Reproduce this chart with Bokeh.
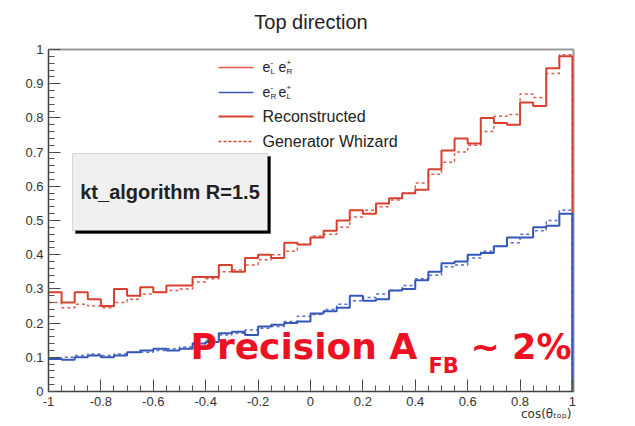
import numpy as np
from bokeh.plotting import figure
from bokeh.models import Label, BoxAnnotation, FixedTicker, Range1d, Title
from bokeh.embed import file_html
from bokeh.resources import INLINE

# ---------------- data ----------------
x_lo, x_hi = -1.0, 1.0
red_reco = [0.29, 0.26, 0.29, 0.27, 0.25, 0.30, 0.28, 0.305, 0.29, 0.31,
            0.31, 0.335, 0.335, 0.37, 0.35, 0.39, 0.40, 0.39, 0.435, 0.43,
            0.45, 0.47, 0.50, 0.53, 0.52, 0.55, 0.565, 0.58, 0.59, 0.65,
            0.705, 0.74, 0.725, 0.80, 0.785, 0.78, 0.845, 0.835, 0.945, 0.98]
red_gen = [0.26, 0.245, 0.255, 0.25, 0.245, 0.26, 0.27, 0.285, 0.29, 0.295,
           0.30, 0.32, 0.33, 0.35, 0.355, 0.37, 0.385, 0.40, 0.41, 0.43,
           0.455, 0.46, 0.48, 0.51, 0.53, 0.54, 0.56, 0.58, 0.61, 0.635,
           0.67, 0.70, 0.72, 0.76, 0.805, 0.81, 0.87, 0.86, 0.93, 0.985]
blue_reco = [0.095, 0.093, 0.10, 0.105, 0.10, 0.105, 0.115, 0.12, 0.125, 0.12,
             0.125, 0.14, 0.145, 0.17, 0.175, 0.165, 0.19, 0.195, 0.20, 0.205,
             0.228, 0.235, 0.245, 0.28, 0.265, 0.27, 0.295, 0.30, 0.325, 0.35,
             0.375, 0.38, 0.40, 0.405, 0.425, 0.45, 0.45, 0.48, 0.485, 0.52]
blue_gen = [0.095, 0.10, 0.105, 0.11, 0.105, 0.11, 0.115, 0.115, 0.12, 0.125,
            0.13, 0.14, 0.15, 0.165, 0.17, 0.18, 0.185, 0.19, 0.205, 0.22,
            0.225, 0.24, 0.255, 0.265, 0.275, 0.285, 0.295, 0.31, 0.33, 0.34,
            0.365, 0.37, 0.39, 0.41, 0.425, 0.435, 0.46, 0.47, 0.50, 0.53]

x_ticks = [-1, -0.8, -0.6, -0.4, -0.2, 0, 0.2, 0.4, 0.6, 0.8, 1]
x_tick_labels = ["-1", "-0.8", "-0.6", "-0.4", "-0.2", "0", "0.2", "0.4", "0.6", "0.8", "1"]
y_ticks = [0, 0.1, 0.2, 0.3, 0.4, 0.5, 0.6, 0.7, 0.8, 0.9, 1]
y_tick_labels = ["0", "0.1", "0.2", "0.3", "0.4", "0.5", "0.6", "0.7", "0.8", "0.9", "1"]

title_text = "Top direction"
x_title = "cos(θₜₒₚ)"
legend_texts = ["Reconstructed", "Generator Whizard"]
box_text = "kt_algorithm R=1.5"

RED = "#d8402f"
RED_LIGHT = "#e2584c"
BLUE = "#3557b8"
PREC = "#ee1124"

# ---------------- layout ----------------
FL, FT, FW, FH = 48, 49, 525, 342
W, H = 635, 426
XR = (-1.0, 1.004)
YR = (0.0, 1.0)

def px2x(px):
    return XR[0] + (px - FL) / FW * (XR[1] - XR[0])

def py2y(py):
    return YR[0] + (FT + FH - py) / FH * (YR[1] - YR[0])

p = figure(frame_width=FW, frame_height=FH,
           x_range=Range1d(*XR), y_range=Range1d(*YR),
           output_backend="svg", toolbar_location=None,
           min_border_left=FL, min_border_right=W - FL - FW,
           min_border_top=FT, min_border_bottom=H - FT - FH)
p.background_fill_color = "white"
p.border_fill_color = "white"
p.outline_line_color = "#999999"
p.outline_line_width = 2
p.xgrid.visible = False
p.ygrid.visible = False

p.title.text = title_text
p.title.align = "center"
p.title.text_font = "Liberation Sans"
p.title.text_font_style = "normal"
p.title.text_font_size = "20px"
p.title.text_color = "#222222"
p.title.standoff = 0

# thin spacer between the title and the frame (pushes the title up)
p.add_layout(Title(text=" ", text_font_size="1px", standoff=14), "above")

# axes
p.xaxis.ticker = FixedTicker(ticks=x_ticks,
                             minor_ticks=list(np.round(np.arange(-1, 1.0001, 0.05), 3)))
p.xaxis.major_label_overrides = dict(zip(x_ticks, x_tick_labels))
p.yaxis.ticker = FixedTicker(ticks=y_ticks,
                             minor_ticks=list(np.round(np.arange(0, 1.0001, 0.02), 3)))
p.yaxis.major_label_overrides = dict(zip(y_ticks, y_tick_labels))
for ax in (p.xaxis[0], p.yaxis[0]):
    ax.major_tick_in = 12
    ax.major_tick_out = 0
    ax.minor_tick_in = 6
    ax.minor_tick_out = 0
    ax.axis_line_color = "#444444"
    ax.major_tick_line_color = "#444444"
    ax.minor_tick_line_color = "#555555"
    ax.major_label_text_font = "Liberation Sans"
    ax.major_label_text_font_size = "13px"
    ax.major_label_text_color = "#333333"
    ax.major_label_standoff = 5

xt = Title(text=x_title, align="right", text_font="DejaVu Sans",
           text_font_size="12px", text_font_style="normal", text_color="#333333",
           standoff=-7, offset=2)
p.add_layout(xt, "below")

# ---------------- histograms ----------------
def outline(vals):
    edges = np.linspace(x_lo, x_hi, len(vals) + 1)
    xs, ys = [], []
    for i, v in enumerate(vals):
        xs += [edges[i], edges[i + 1]]
        ys += [v, v]
    xs.append(edges[-1])
    ys.append(0.0)
    return xs, ys

xs, ys = outline(red_gen)
p.line(xs, ys, line_color=RED, line_width=1.5, line_dash="3 3", line_alpha=0.85)
xs, ys = outline(blue_gen)
p.line(xs, ys, line_color=BLUE, line_width=1.5, line_dash="3 3", line_alpha=0.85)
xs, ys = outline(red_reco)
p.line(xs, ys, line_color=RED, line_width=2)
xs, ys = outline(blue_reco)
p.line(xs, ys, line_color=BLUE, line_width=2)

# ---------------- legend (manual) ----------------
rows_py = [67, 92, 116, 141]
lx0, lx1, tx = 218, 253, 262
styles = [(RED_LIGHT, 1.4, "solid"), (BLUE, 1.5, "solid"), (RED, 2, "solid"), (RED, 1.5, "3 2")]
for py, (c, w, d) in zip(rows_py, styles):
    p.segment(x0=[px2x(lx0)], y0=[py2y(py)], x1=[px2x(lx1)], y1=[py2y(py)],
              line_color=c, line_width=w, line_dash=d)

def add_label(px, py, text, size, bold=False, color="#222222", font="Liberation Sans",
              align="left", baseline="middle"):
    p.add_layout(Label(x=px2x(px), y=py2y(py), text=text, text_font=font,
                       text_font_size=f"{size}px",
                       text_font_style="bold" if bold else "normal",
                       text_color=color, text_align=align, text_baseline=baseline))

# e-_L e+_R   and   e-_R e+_L
for py, (s1, s2) in zip(rows_py[:2], [("L", "R"), ("R", "L")]):
    add_label(tx, py - 1, "e", 14)
    add_label(tx + 8, py - 5, "-", 8)
    add_label(tx + 8, py + 4, s1, 8)
    add_label(tx + 16, py - 1, "e", 14)
    add_label(tx + 24, py - 5, "+", 8)
    add_label(tx + 24, py + 4, s2, 8)

add_label(tx, rows_py[2], legend_texts[0], 16)
add_label(tx, rows_py[3], legend_texts[1], 16)

# ---------------- text box ----------------
bl, br, bt, bb = 72, 267, 153, 230
p.add_layout(BoxAnnotation(left=px2x(bl + 3), right=px2x(br + 3), top=py2y(bt + 3),
                           bottom=py2y(bb + 3), fill_color="black", fill_alpha=1,
                           line_color="black"))
p.add_layout(BoxAnnotation(left=px2x(bl), right=px2x(br), top=py2y(bt), bottom=py2y(bb),
                           fill_color="#f0f0f0", fill_alpha=1, line_color="#888888",
                           line_width=1))
add_label((bl + br) / 2, (bt + bb) / 2, box_text, 20, bold=True, align="center")

# ---------------- big precision text ----------------
add_label(190, 346, "Precision A", 36, bold=True, color=PREC, font="DejaVu Sans")
add_label(428, 365, "FB", 21, bold=True, color=PREC, font="DejaVu Sans")
add_label(571, 346, "~ 2%", 35, bold=True, color=PREC, font="DejaVu Sans", align="right")

open("out.html", "w").write(file_html(p, INLINE))
